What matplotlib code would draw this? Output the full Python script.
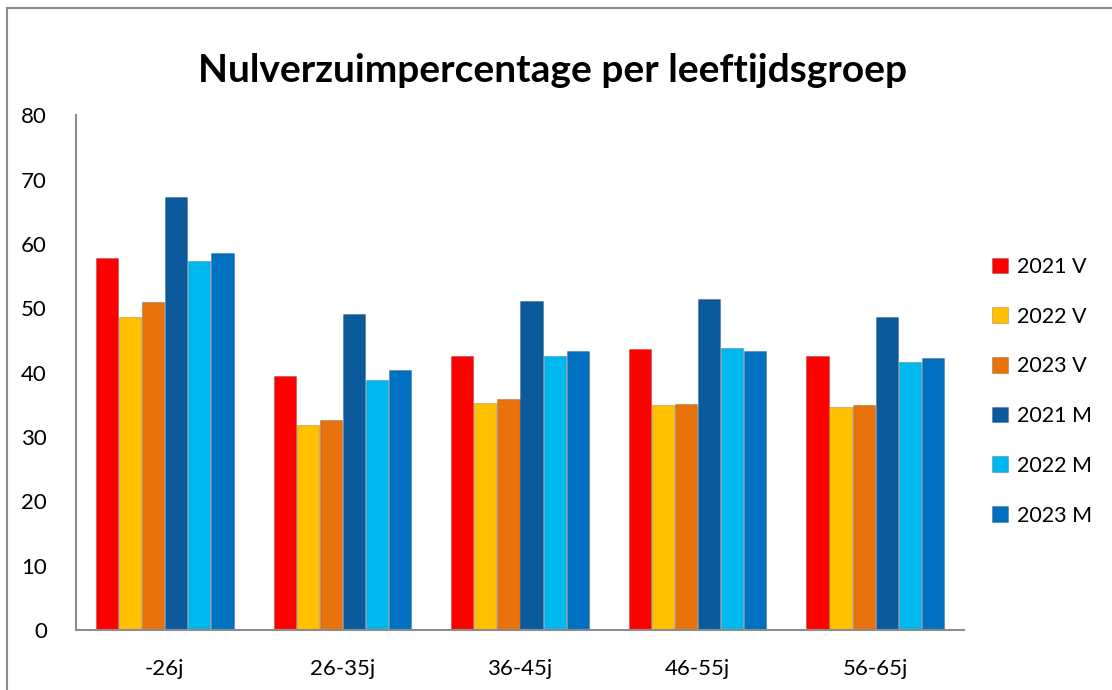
import matplotlib
matplotlib.use('Agg')
import matplotlib.pyplot as plt
import numpy as np
from matplotlib.lines import Line2D

# Data
groups = ['-26j', '26-35j', '36-45j', '46-55j', '56-65j']
series = ['2021 V', '2022 V', '2023 V', '2021 M', '2022 M', '2023 M']
v2021 = [57.8, 39.5, 42.6, 43.6, 42.6]
v2022 = [48.6, 31.9, 35.2, 34.9, 34.7]
v2023 = [50.9, 32.6, 35.9, 35.1, 34.9]
m2021 = [67.3, 49.1, 51.2, 51.4, 48.6]
m2022 = [57.4, 38.9, 42.6, 43.9, 41.6]
m2023 = [58.6, 40.4, 43.4, 43.4, 42.3]
colors = ['#ff0000', '#ffc000', '#e8720c', '#0a5a9c', '#00b8f0', '#0070c0']

values = [v2021, v2022, v2023, m2021, m2022, m2023]

plt.rcParams['font.family'] = ['Lato', 'DejaVu Sans']

fig = plt.figure(figsize=(11.12, 6.90), dpi=100)
ax = fig.add_axes([0.0683, 0.087, 0.7986, 0.746])

x = np.arange(len(groups))
width = 0.13
for i, (name, vals, col) in enumerate(zip(series, values, colors)):
    offs = (i - 2.5) * width
    ax.bar(x + offs, vals, width * 0.96, color=col, label=name,
           edgecolor='#00000030', linewidth=0.8)

ax.set_ylim(0, 80)
ax.set_yticks(range(0, 81, 10))
ax.set_xlim(-0.5, len(groups) - 0.5)
ax.set_xticks(x)
ax.set_xticklabels(groups)
ax.tick_params(axis='both', length=0, labelsize=16)
ax.tick_params(axis='y', pad=21)
ax.tick_params(axis='x', pad=21)
for s in ['top', 'right']:
    ax.spines[s].set_visible(False)
for s in ['left', 'bottom']:
    ax.spines[s].set_color('#8c8c8c')
    ax.spines[s].set_linewidth(1.5)

fig.text(0.497, 0.898, 'Nulverzuimpercentage per leeftijdsgroep',
         ha='center', va='center', fontsize=28, fontweight='bold')

ax.legend(loc='center left', bbox_to_anchor=(0.884, 0.433),
          bbox_transform=fig.transFigure, frameon=False, fontsize=15.5,
          handlelength=0.75, handleheight=0.75, handletextpad=0.45,
          labelspacing=1.38, borderaxespad=0)

# chart border
fig.add_artist(Line2D([7 / 1112, 7 / 1112], [0, 1 - 8 / 690],
                      transform=fig.transFigure, color='#8c8c8c', lw=1.5))
fig.add_artist(Line2D([7 / 1112, 1], [1 - 8 / 690, 1 - 8 / 690],
                      transform=fig.transFigure, color='#8c8c8c', lw=1.5))

fig.savefig('out.png', dpi=100)
